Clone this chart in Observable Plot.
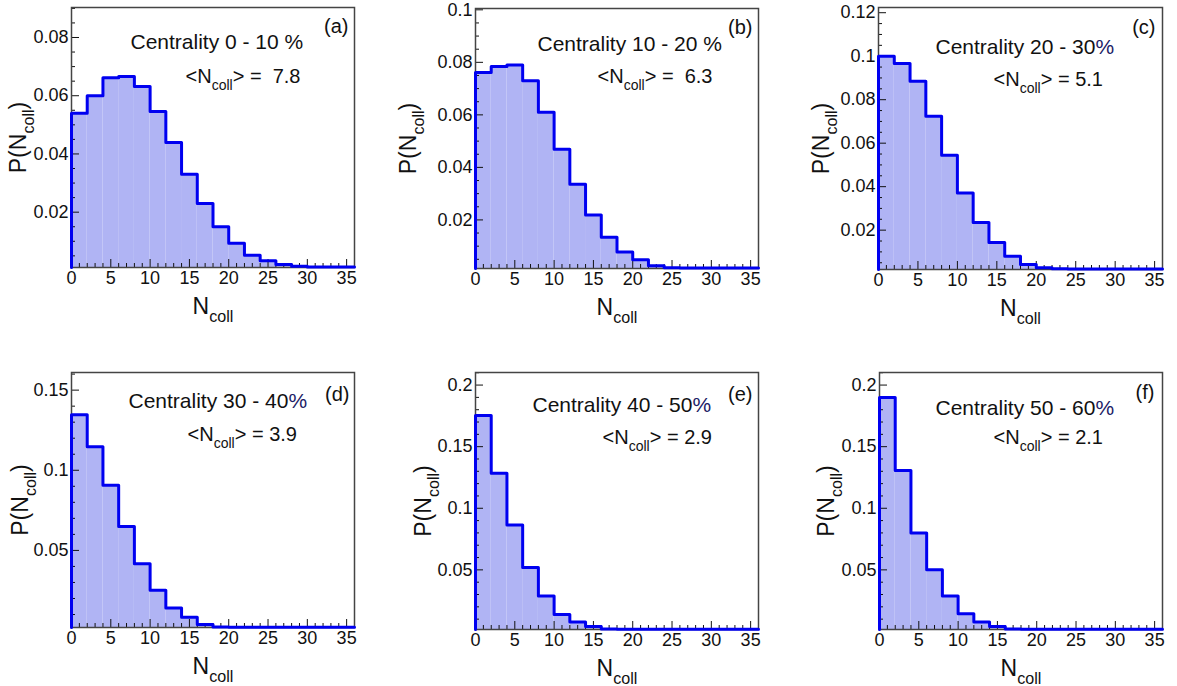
<!DOCTYPE html>
<html>
<head>
<meta charset="utf-8">
<script src="https://cdn.jsdelivr.net/npm/d3@7"></script>
<script src="https://cdn.jsdelivr.net/npm/@observablehq/plot@0.6"></script>
<style>
html, body { margin: 0; padding: 0; background: #fff; }
#wrap { position: relative; width: 1177px; height: 686px; overflow: hidden; background: #fff; }
.panel { position: absolute; }
</style>
</head>
<body>
<div id="wrap"></div>
<script>
// ---------- data ----------
const binEdges = [0, 2, 4, 6, 8, 10, 12, 14, 16, 18, 20, 22, 24, 26, 28, 30, 32, 34, 36];

const probA = [0.0540, 0.0600, 0.0662, 0.0666, 0.0632, 0.0546, 0.0439, 0.0330, 0.0230, 0.0150, 0.0093, 0.0052, 0.0033, 0.0020, 0.0014, 0.0012, 0.0012, 0.0012];
const probB = [0.0761, 0.0784, 0.0790, 0.0730, 0.0610, 0.0469, 0.0336, 0.0219, 0.0134, 0.0078, 0.0048, 0.0025, 0.0018, 0.0017, 0.0017, 0.0017, 0.0017, 0.0017];
const probC = [0.1000, 0.0966, 0.0885, 0.0724, 0.0545, 0.0371, 0.0235, 0.0143, 0.0080, 0.0042, 0.0027, 0.0022, 0.0021, 0.0021, 0.0021, 0.0021, 0.0021, 0.0021];
const probD = [0.1346, 0.1147, 0.0906, 0.0649, 0.0417, 0.0251, 0.0141, 0.0083, 0.0037, 0.0022, 0.0021, 0.0021, 0.0021, 0.0021, 0.0021, 0.0021, 0.0021, 0.0021];
const probE = [0.1752, 0.1284, 0.0865, 0.0519, 0.0287, 0.0138, 0.0076, 0.0041, 0.0020, 0.0018, 0.0018, 0.0018, 0.0018, 0.0018, 0.0018, 0.0018, 0.0018, 0.0018];
const probF = [0.1900, 0.1306, 0.0800, 0.0500, 0.0287, 0.0143, 0.0076, 0.0041, 0.0020, 0.0018, 0.0018, 0.0018, 0.0018, 0.0018, 0.0018, 0.0018, 0.0018, 0.0018];

const centralityLabels = ["Centrality 0 - 10 %", "Centrality 10 - 20 %", "Centrality 20 - 30%", "Centrality 30 - 40%", "Centrality 40 - 50%", "Centrality 50 - 60%"];
const meanLabels = ["<Ncoll> = \u00a07.8", "<Ncoll> = \u00a06.3", "<Ncoll> = 5.1", "<Ncoll> = 3.9", "<Ncoll> = 2.9", "<Ncoll> = 2.1"];
const panelTags = ["(a)", "(b)", "(c)", "(d)", "(e)", "(f)"];

const xDomain = [0, 36];
const xTickLabels = [0, 5, 10, 15, 20, 25, 30, 35];
const yDomains = [[0.001, 0.0903], [0.0015, 0.1005], [0.0019, 0.1224], [0.0019, 0.161], [0.0016, 0.2102], [0.0016, 0.2102]];
const yTickLabelsA = [0.02, 0.04, 0.06, 0.08];
const yTickLabelsB = [0.02, 0.04, 0.06, 0.08, 0.1];
const yTickLabelsC = [0.02, 0.04, 0.06, 0.08, 0.1, 0.12];
const yTickLabelsD = [0.05, 0.1, 0.15];
const yTickLabelsEF = [0.05, 0.1, 0.15, 0.2];
const yMinorSteps = [0.005, 0.005, 0.005, 0.01, 0.01, 0.01];

const xLabel = "Ncoll";
const yLabel = "P(Ncoll)";

// ---------- layout (positions / styles) ----------
const series = [probA, probB, probC, probD, probE, probF];
const yTickSets = [yTickLabelsA, yTickLabelsB, yTickLabelsC, yTickLabelsD, yTickLabelsEF, yTickLabelsEF];
const layout = [
  {left: 0,   top: 0,   width: 390, height: 335, mL: 71, mR: 36, mT: 7,  mB: 68, yLab: -46, title: [59, 41], mean: [114, 75], tag: [-6, 25], navy: false},
  {left: 390, top: 0,   width: 390, height: 335, mL: 85, mR: 22, mT: 8,  mB: 67, yLab: -60, title: [62, 42], mean: [122, 74], tag: [-6, 25], navy: false},
  {left: 780, top: 0,   width: 397, height: 335, mL: 98, mR: 15, mT: 7,  mB: 66, yLab: -50, title: [57, 46], mean: [115, 78], tag: [-7, 26], navy: true},
  {left: 0,   top: 340, width: 390, height: 346, mL: 71, mR: 36, mT: 32, mB: 59, yLab: -44, title: [57, 35], mean: [116, 68], tag: [-5, 28], navy: true},
  {left: 390, top: 340, width: 390, height: 346, mL: 85, mR: 22, mT: 32, mB: 57, yLab: -45, title: [57, 39], mean: [127, 71], tag: [-6, 28], navy: true},
  {left: 780, top: 340, width: 397, height: 346, mL: 99, mR: 15, mT: 32, mB: 57, yLab: -46, title: [56, 42], mean: [114, 71], tag: [-8, 26], navy: true}
];

const FONT = '"Liberation Sans", Arial, Helvetica, sans-serif';
const FILL = "#b0b4f4";
const LINE = "#0000f0";
const INK = "#111";

function richify(svg, navyPct) {
  svg.querySelectorAll("text").forEach(t => {
    if (t.querySelector("tspan")) return;
    const s = t.textContent;
    if (!/Ncoll|%/.test(s)) return;
    const fs = parseFloat(getComputedStyle(t).fontSize) || 16;
    const subFs = 0.7 * fs, shift = 0.35 * fs;
    t.textContent = "";
    t.style.whiteSpace = "pre";
    let pending = 0;
    const add = (str, dy, attrs = {}) => {
      const sp = document.createElementNS("http://www.w3.org/2000/svg", "tspan");
      if (dy) sp.setAttribute("dy", dy);
      for (const k in attrs) sp.setAttribute(k, attrs[k]);
      sp.textContent = str;
      t.appendChild(sp);
    };
    for (const p of s.split(/(Ncoll|%)/)) {
      if (!p) continue;
      if (p === "Ncoll") {
        add("N", pending); pending = 0;
        add("coll", shift, {"font-size": subFs}); pending = -shift;
      } else if (p === "%") {
        add("%", pending, navyPct ? {fill: "#1c1c66"} : {}); pending = 0;
      } else {
        add(p, pending); pending = 0;
      }
    }
  });
}

const wrap = document.getElementById("wrap");

series.forEach((vals, i) => {
  const L = layout[i];
  const [y0, y1] = yDomains[i];
  const plotW = L.width - L.mL - L.mR;
  const plotH = L.height - L.mT - L.mB;
  const bins = vals.map((v, k) => ({x1: binEdges[k], x2: binEdges[k + 1], y1: y0, y2: v}));
  const outline = [{x: binEdges[0], y: y0}]
    .concat(vals.map((v, k) => ({x: binEdges[k], y: v})))
    .concat([{x: binEdges[vals.length], y: vals[vals.length - 1]}]);
  const yMajor = yTickSets[i];
  const step = yMinorSteps[i];
  const yMinor = d3.range(1, Math.floor(y1 / step) + 1)
    .map(k => +(k * step).toFixed(4))
    .filter(v => v > y0 && v < y1 && !yMajor.some(m => Math.abs(m - v) < 1e-9));
  const xMinor = d3.range(1, 36).filter(v => v % 5 !== 0);

  const chart = Plot.plot({
    width: L.width,
    height: L.height,
    marginLeft: L.mL,
    marginRight: L.mR,
    marginTop: L.mT,
    marginBottom: L.mB,
    x: {domain: xDomain},
    y: {domain: [y0, y1]},
    style: {fontFamily: FONT, fontSize: "18px", color: INK, background: "transparent", overflow: "visible"},
    marks: [
      Plot.rectY(bins, {x1: "x1", x2: "x2", y1: "y1", y2: "y2", fill: FILL}),
      Plot.tickX(xMinor, {x: d => d, insetTop: plotH - 4, stroke: INK, strokeWidth: 1}),
      Plot.tickX(xTickLabels, {x: d => d, insetTop: plotH - 8, stroke: INK, strokeWidth: 1}),
      Plot.tickY(yMinor, {y: d => d, insetRight: plotW - 4, stroke: INK, strokeWidth: 1}),
      Plot.tickY(yMajor, {y: d => d, insetRight: plotW - 8, stroke: INK, strokeWidth: 1}),
      Plot.frame({stroke: "#444", strokeWidth: 1.5}),
      Plot.lineY(outline, {x: "x", y: "y", curve: "step-after", stroke: LINE, strokeWidth: 3}),
      Plot.axisX(xTickLabels, {tickSize: 0, tickPadding: 4, label: null, fontSize: 18}),
      Plot.axisY(yMajor, {tickSize: 0, tickPadding: 3, label: null, fontSize: 18, tickFormat: d => String(d)}),
      Plot.text([xLabel], {frameAnchor: "bottom", dy: 46, lineAnchor: "bottom", textAnchor: "middle", fontSize: 23, fill: INK}),
      Plot.text([yLabel], {frameAnchor: "left", dx: L.yLab, rotate: -90, lineAnchor: "bottom", textAnchor: "middle", fontSize: 23, fill: INK}),
      Plot.text([centralityLabels[i]], {frameAnchor: "top-left", dx: L.title[0], dy: L.title[1], lineAnchor: "bottom", textAnchor: "start", fontSize: 21, fill: INK}),
      Plot.text([meanLabels[i]], {frameAnchor: "top-left", dx: L.mean[0], dy: L.mean[1], lineAnchor: "bottom", textAnchor: "start", fontSize: 20, fill: INK}),
      Plot.text([panelTags[i]], {frameAnchor: "top-right", dx: L.tag[0], dy: L.tag[1], lineAnchor: "bottom", textAnchor: "end", fontSize: 20, fill: INK})
    ]
  });
  const holder = document.createElement("div");
  holder.className = "panel";
  holder.style.left = L.left + "px";
  holder.style.top = L.top + "px";
  holder.appendChild(chart);
  wrap.appendChild(holder);
  richify(chart, L.navy);
});
</script>
</body>
</html>
